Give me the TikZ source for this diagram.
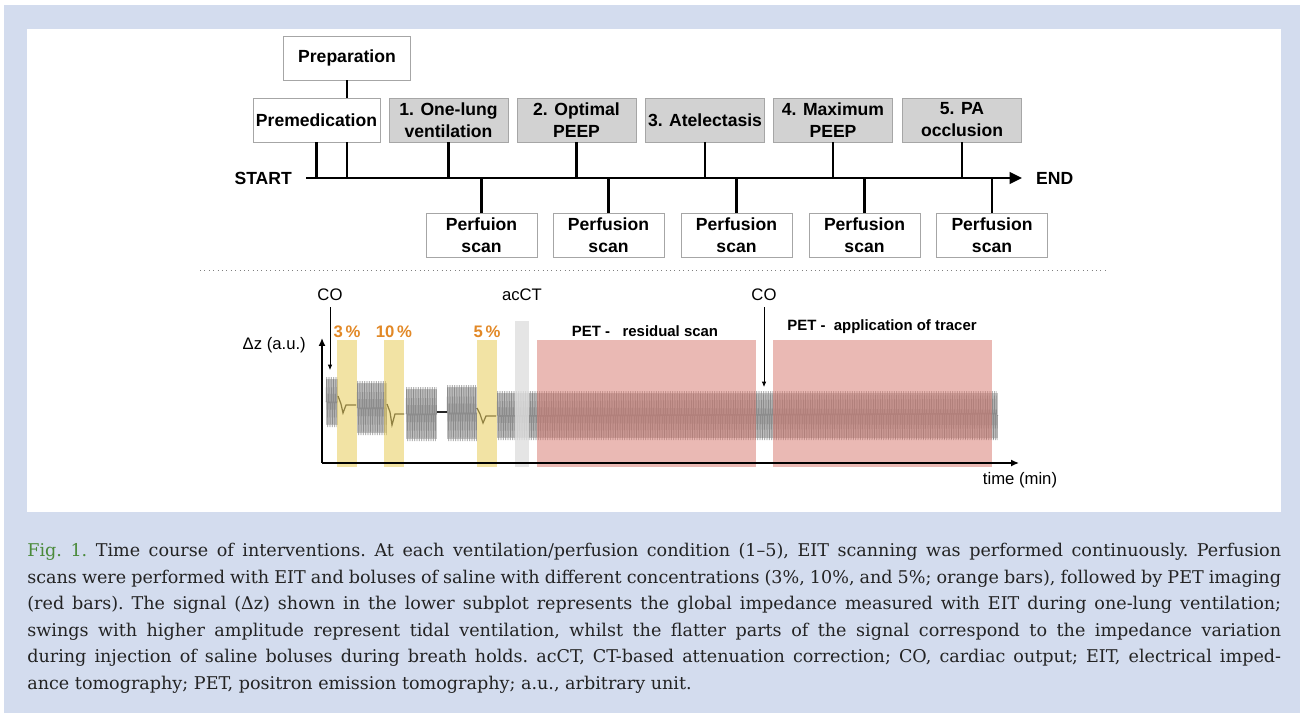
\documentclass[tikz,border=0pt]{standalone}
\usepackage{fontspec}
\setmainfont{DejaVu Serif}
\setsansfont{Liberation Sans}
\usetikzlibrary{arrows.meta,positioning,decorations.pathmorphing}

\definecolor{pagebg}{RGB}{211,220,238}
\definecolor{boxgray}{RGB}{210,210,210}
\definecolor{bolusyellow}{RGB}{232,204,90}
\definecolor{petred}{RGB}{215,117,107}
\definecolor{pctorange}{RGB}{226,136,38}
\definecolor{figgreen}{RGB}{74,138,58}
\definecolor{captext}{RGB}{35,35,35}

\tikzset{
  stage/.style={draw=gray!70, line width=0.5pt, font=\sffamily\bfseries\fontsize{10}{12.5}\selectfont,
    align=center, inner sep=0pt, minimum height=0.88cm},
  cond/.style={stage, fill=boxgray, minimum width=2.38cm},
  scanbox/.style={stage, fill=white, minimum width=2.22cm},
  link/.style={line width=1.4pt},
  plain/.style={font=\sffamily\fontsize{9.5}{11}\selectfont},
  pct/.style={font=\sffamily\bfseries\fontsize{9.5}{11}\selectfont, text=pctorange},
  petlabel/.style={font=\sffamily\bfseries\fontsize{8.5}{10}\selectfont},
  band/.style={fill=gray!45},
  signal/.style={draw=gray!90, line width=0.3pt, decorate,
    decoration={zigzag, segment length=0.035cm, amplitude=#1}},
  trace/.style={draw=black!85, line width=0.7pt},
  coarrow/.style={line width=0.4pt, -{Latex[length=3pt,width=2.5pt]}},
  axis/.style={line width=0.85pt, -{Latex[length=4.5pt,width=4pt]}}
}

\begin{document}
\begin{tikzpicture}[x=0.02cm, y=-0.02cm]
\useasboundingbox (0,0) rectangle (1300,713);
% Frame
\fill[pagebg] (4,5) rectangle (1300,713);
\fill[white] (27,29) rectangle (1281,512);

% Timeline
\coordinate (start) at (306,178);
\coordinate (finish) at (1022,178);
\draw[link, -{Triangle[length=7pt,width=6.5pt]}] (start) -- (finish);
\node[font=\sffamily\bfseries\fontsize{10}{12}\selectfont, left=0.16cm of start] (startlbl) {START};
\node[font=\sffamily\bfseries\fontsize{10}{12}\selectfont, right=0.16cm of finish] (endlbl) {END};

% Preparation
\node[stage, fill=white, minimum width=2.54cm] (prep) at (347,58) {Preparation};
\node[stage, fill=white, minimum width=2.54cm] (premed) at (316.5,120) {Premedication};
\draw[link] (prep.south) -- (prep |- premed.north);
\draw[link] (premed.south) -- (premed |- start);
\draw[link] (prep |- premed.south) -- (prep |- start);

% Ventilation conditions
\foreach \n/\x/\txt in {c1/448.5/{1. One-lung\\ventilation}, c2/576.5/{2. Optimal\\PEEP},
    c3/705/{3. Atelectasis}, c4/833/{4. Maximum\\PEEP}, c5/962/{5. PA\\occlusion}} {
    \node[cond] (\n) at (\x,120) {\txt};
    \draw[link] (\n.south) -- (\n |- start);
}

% Perfusion scans
\foreach \n/\x/\txt in {s1/481.5/{Perfuion\\scan}, s2/608.5/{Perfusion\\scan},
    s3/736.5/{Perfusion\\scan}, s4/864.5/{Perfusion\\scan}, s5/992/{Perfusion\\scan}} {
    \node[scanbox] (\n) at (\x,235.5) {\txt};
    \draw[link] (\n.north) -- (\n |- start);
}

% Separator
\draw[gray, dotted, line width=0.5pt] (200,270) -- (1107,270);

% Impedance signal
\foreach \xa/\xb/\ym/\amp/\ampcm in {326/338/402/25/0.5cm, 357/387/408/27/0.54cm,
    406/437/414/27/0.54cm, 447/477/413/28/0.56cm, 497/998/415.5/24.5/0.49cm} {
    \fill[band] (\xa,\ym-\amp+2) rectangle (\xb,\ym+\amp-2);
    \draw[signal=\ampcm] (\xa,\ym) -- (\xb,\ym);
}
\draw[trace] (338,396) -- (341,404) -- (343,413) -- (346,405) -- (356,405);
\draw[trace] (387,404) -- (390,412) -- (392,425) -- (395,414) -- (404,414);
\draw[trace] (437,412) -- (447,412);
\draw[trace] (477,408) -- (480,414) -- (483,423) -- (486,416) -- (496,416);

% Bolus and scan bars
\foreach \xa/\xb in {337/357, 384/404, 477/497} {
    \fill[bolusyellow, fill opacity=0.55] (\xa,340) rectangle (\xb,467);
}
\fill[gray!25, fill opacity=0.8] (515,321) rectangle (529,467);
\fill[petred, fill opacity=0.5] (537,340) rectangle (756,467);
\fill[petred, fill opacity=0.5] (773,340) rectangle (992,467);

% Axes
\coordinate (orig) at (322,463);
\coordinate (ytop) at (322,338);
\coordinate (xend) at (1019,463);
\draw[axis] (orig) -- (ytop);
\draw[axis] (orig) -- (xend);
\node[plain, anchor=east] (dz) at (312,345) {Δz (a.u.)};
\node[plain] (time) at (1020,480) {time (min)};

% Labels
\node[pct] (p3) at (347,332) {3\,\%};
\node[pct] (p10) at (394,332) {10\,\%};
\node[pct] (p5) at (487,332) {5\,\%};
\node[plain] (acct) at (522,295) {acCT};
\node[petlabel] (petres) at (645,331) {PET -\ \ \ residual scan};
\node[petlabel] (petapp) at (882,327) {PET -\ \ application of tracer};

% CO markers
\node[plain] (co1) at (330,295) {CO};
\coordinate (co1tip) at (330,370);
\draw[coarrow] (co1.south) -- (co1tip);
\node[plain] (co2) at (764,295) {CO};
\coordinate (co2tip) at (764,387);
\draw[coarrow] (co2.south) -- (co2tip);

% Caption
\node[anchor=north west, text width=25.08cm, align=justify, inner sep=0pt, text=captext,
    font=\fontsize{10}{15.1}\selectfont\frenchspacing] (caption) at (27,543) {%
{\color{figgreen}Fig. 1.} Time course of interventions. At each ventilation/perfusion condition (1--5), EIT scanning was performed continuously. Perfusion\linebreak
scans were performed with EIT and boluses of saline with different concentrations (3\%, 10\%, and 5\%; orange bars), followed by PET imaging\linebreak
(red bars). The signal (Δz) shown in the lower subplot represents the global impedance measured with EIT during one-lung ventilation;\linebreak
swings with higher amplitude represent tidal ventilation, whilst the flatter parts of the signal correspond to the impedance variation\linebreak
during injection of saline boluses during breath holds. acCT, CT-based attenuation correction; CO, cardiac output; EIT, electrical imped-\linebreak
ance tomography; PET, positron emission tomography; a.u., arbitrary unit.};
\end{tikzpicture}
\end{document}
